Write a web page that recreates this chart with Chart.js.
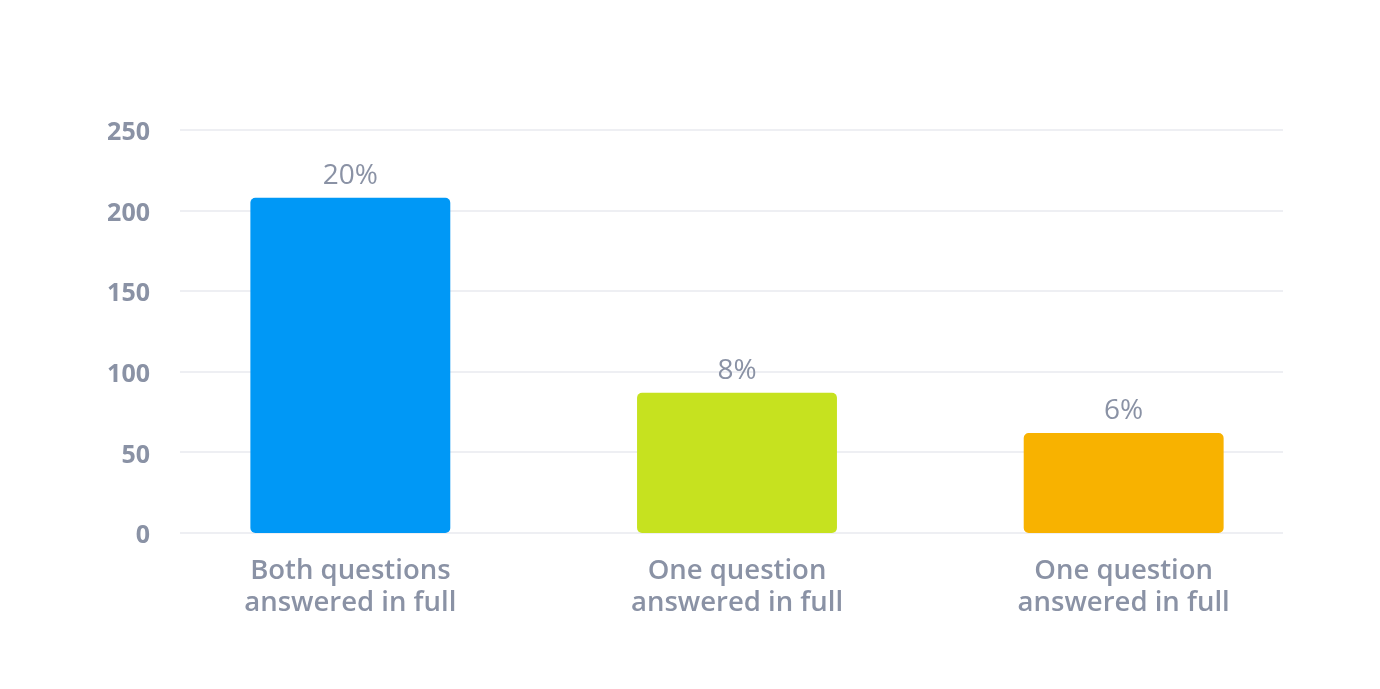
<!DOCTYPE html>
<html>
<head>
<meta charset="utf-8">
<script src="https://cdn.jsdelivr.net/npm/chart.js@4"></script>
<style>
  html, body { margin: 0; padding: 0; background: #fff; }
  #wrap { width: 1380px; height: 689px; }
</style>
</head>
<body>
<div id="wrap"><canvas id="barChart"></canvas></div>
<script>
const categories = [
  ['Both questions', 'answered in full'],
  ['One question', 'answered in full'],
  ['One question', 'answered in full']
];
const counts = [208, 87, 62];
const percentLabels = ['20%', '8%', '6%'];
const barColors = ['#0098F6', '#C6E21F', '#F8B200'];
const yTicks = [0, 50, 100, 150, 200, 250];

const textGray = '#8A92A5';
const gridGray = '#EEEFF3';

// horizontal grid lines, a bit shorter than the chart area like the original
const gridPlugin = {
  id: 'shortGrid',
  beforeDatasetsDraw(chart) {
    const { ctx, chartArea, scales } = chart;
    ctx.save();
    ctx.strokeStyle = gridGray;
    ctx.lineWidth = 2;
    yTicks.forEach(v => {
      const y = Math.round(scales.y.getPixelForValue(v));
      ctx.beginPath();
      ctx.moveTo(chartArea.left + 23, y);
      ctx.lineTo(chartArea.right - 34, y);
      ctx.stroke();
    });
    ctx.restore();
  }
};

// percentage labels above bars
const valueLabels = {
  id: 'valueLabels',
  afterDatasetsDraw(chart) {
    const { ctx } = chart;
    const meta = chart.getDatasetMeta(0);
    ctx.save();
    ctx.fillStyle = textGray;
    ctx.font = '400 28px "Open Sans"';
    ctx.textAlign = 'center';
    ctx.textBaseline = 'bottom';
    meta.data.forEach((bar, i) => {
      ctx.fillText(percentLabels[i], bar.x, bar.y - 8);
    });
    ctx.restore();
  }
};

const ctx = document.getElementById('barChart').getContext('2d');
const barChart = new Chart(ctx, {
  type: 'bar',
  data: {
    labels: categories,
    datasets: [{
      data: counts,
      backgroundColor: barColors,
      borderRadius: 5,
      borderSkipped: false,
      barPercentage: 0.517,
      categoryPercentage: 1
    }]
  },
  options: {
    responsive: true,
    maintainAspectRatio: false,
    animation: false,
    devicePixelRatio: 1,
    layout: {
      padding: { top: 130, right: 63, bottom: 0, left: 0 }
    },
    plugins: {
      legend: { display: false },
      tooltip: { enabled: false }
    },
    scales: {
      x: {
        afterFit(scale) {
          scale.height = 156;
        },
        grid: { display: false, drawTicks: false },
        border: { display: false },
        ticks: {
          color: textGray,
          padding: 22,
          font: { family: 'Open Sans', size: 27.5, weight: '600', lineHeight: 1.16 }
        }
      },
      y: {
        min: 0,
        max: 250,
        afterBuildTicks(scale) {
          scale.ticks = yTicks.map(v => ({ value: v }));
        },
        afterFit(scale) {
          scale.width = 157;
        },
        grid: { display: false, drawTicks: false },
        border: { display: false },
        ticks: {
          color: textGray,
          padding: 7,
          labelOffset: 3,
          font: { family: 'Open Sans', size: 25, weight: '700' }
        }
      }
    }
  },
  plugins: [gridPlugin, valueLabels]
});
</script>
</body>
</html>
